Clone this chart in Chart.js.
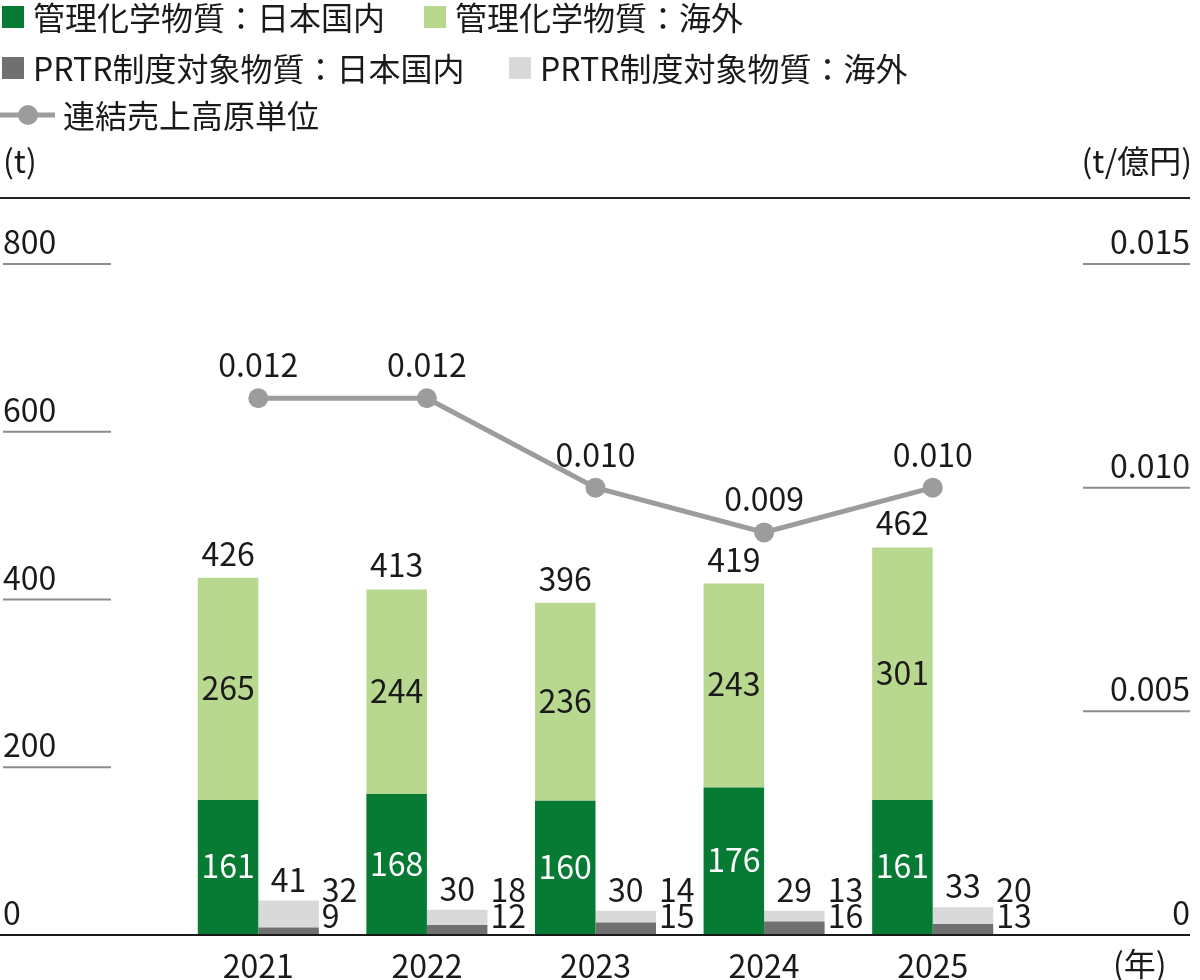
<!DOCTYPE html>
<html lang="ja">
<head>
<meta charset="utf-8">
<title>管理化学物質・PRTR制度対象物質 排出量</title>
<script src="https://cdn.jsdelivr.net/npm/chart.js@4.4.1/dist/chart.umd.min.js"></script>
<style>
  html, body { margin: 0; padding: 0; background: #fff; }
  #wrap { position: relative; width: 1200px; height: 980px; }
</style>
</head>
<body>
<div id="wrap"><canvas id="chart"></canvas></div>
<script>
// 年度
const categories = ['2021', '2022', '2023', '2024', '2025'];

// 管理化学物質 (t)
const kanriDomestic = [161, 168, 160, 176, 161];
const kanriOverseas = [265, 244, 236, 243, 301];
const kanriTotal = [426, 413, 396, 419, 462];

// PRTR制度対象物質 (t)
const prtrDomestic = [9, 12, 15, 16, 13];
const prtrOverseas = [32, 18, 14, 13, 20];
const prtrTotal = [41, 30, 30, 29, 33];

// 連結売上高原単位 (t/億円)
const intensity = [0.012, 0.012, 0.010, 0.009, 0.010];

// 目盛り
const leftTicks = [0, 200, 400, 600, 800];
const rightTicks = [0, 0.005, 0.010, 0.015];
const rightTickLabels = ['0', '0.005', '0.010', '0.015'];

const FONT = '"Noto Sans CJK JP", "Noto Sans", sans-serif';
const TEXT = '#1a1a1a';
const C_GREEN = '#077a34';
const C_LGREEN = '#b8d78f';
const C_GRAY = '#707070';
const C_LGRAY = '#d9d9d9';
const C_LINE = '#9c9c9c';

const legendItems = [
    { label: '管理化学物質：日本国内', color: C_GREEN, x: 2, y: 17 },
    { label: '管理化学物質：海外', color: C_LGREEN, x: 424, y: 17 },
    { label: 'PRTR制度対象物質：日本国内', color: C_GRAY, x: 2, y: 68 },
    { label: 'PRTR制度対象物質：海外', color: C_LGRAY, x: 509, y: 68 },
];

const decorPlugin = {
    id: 'decor',
    afterDraw(chart) {
        const ctx = chart.ctx;
        const xS = chart.scales.x;
        const yL = chart.scales.y;
        const yR = chart.scales.y2;
        const base = yL.getPixelForValue(0);

        ctx.save();
        ctx.font = '32px ' + FONT;
        ctx.fillStyle = TEXT;

        // 凡例
        ctx.textBaseline = 'middle';
        legendItems.forEach(item => {
            ctx.fillStyle = item.color;
            ctx.fillRect(item.x, item.y - 11, 22, 22);
            ctx.fillStyle = TEXT;
            ctx.textAlign = 'left';
            ctx.fillText(item.label, item.x + 31, item.y + 1);
        });
        ctx.strokeStyle = C_LINE;
        ctx.lineWidth = 5;
        ctx.beginPath();
        ctx.moveTo(0, 115);
        ctx.lineTo(55, 115);
        ctx.stroke();
        ctx.fillStyle = C_LINE;
        ctx.beginPath();
        ctx.arc(28, 115, 10, 0, Math.PI * 2);
        ctx.fill();
        ctx.fillStyle = TEXT;
        ctx.fillText('連結売上高原単位', 63, 116);

        // 軸タイトル
        ctx.fillText('(t)', 3, 161);
        ctx.textAlign = 'right';
        ctx.fillText('(t/億円)', 1192, 161);

        // 上端の線
        ctx.strokeStyle = '#222';
        ctx.lineWidth = 2;
        ctx.beginPath();
        ctx.moveTo(0, 198);
        ctx.lineTo(1190, 198);
        ctx.stroke();

        // 目盛り（左）
        ctx.textBaseline = 'alphabetic';
        ctx.strokeStyle = '#8c8c8c';
        leftTicks.forEach(v => {
            const py = yL.getPixelForValue(v);
            ctx.textAlign = 'left';
            ctx.fillText(String(v), 3, py - 10);
            if (v !== 0) {
                ctx.beginPath();
                ctx.moveTo(3, py);
                ctx.lineTo(111, py);
                ctx.stroke();
            }
        });
        // 目盛り（右）
        rightTicks.forEach((v, i) => {
            const py = yR.getPixelForValue(v);
            ctx.textAlign = 'right';
            ctx.fillText(rightTickLabels[i], 1190, py - 10);
            if (v !== 0) {
                ctx.beginPath();
                ctx.moveTo(1083, py);
                ctx.lineTo(1190, py);
                ctx.stroke();
            }
        });

        // ベースライン
        ctx.strokeStyle = '#1a1a1a';
        ctx.beginPath();
        ctx.moveTo(0, base);
        ctx.lineTo(1190, base);
        ctx.stroke();

        // 横軸ラベル
        ctx.textBaseline = 'middle';
        ctx.textAlign = 'center';
        categories.forEach((c, i) => {
            ctx.fillText(c, xS.getPixelForValue(i), base + 31);
        });
        ctx.textAlign = 'left';
        ctx.fillText('(年)', 1113, base + 29);

        // データラベル
        ctx.textBaseline = 'alphabetic';
        ctx.textAlign = 'center';
        const mKd = chart.getDatasetMeta(0).data;
        const mKo = chart.getDatasetMeta(1).data;
        const mPo = chart.getDatasetMeta(3).data;
        const mLine = chart.getDatasetMeta(4).data;

        categories.forEach((c, i) => {
            const kd = mKd[i], ko = mKo[i], po = mPo[i];
            ctx.fillStyle = '#ffffff';
            ctx.fillText(String(kanriDomestic[i]), kd.x, (kd.y + kd.base) / 2 + 11);
            ctx.fillStyle = TEXT;
            ctx.fillText(String(kanriOverseas[i]), ko.x, (ko.y + ko.base) / 2 + 11);
            ctx.fillText(String(kanriTotal[i]), ko.x, ko.y - 12);
            ctx.fillText(String(prtrTotal[i]), po.x, po.y - 9);

            ctx.textAlign = 'left';
            const sx = po.x + po.width / 2 + 3;
            ctx.fillText(String(prtrOverseas[i]), sx, base - 33);
            ctx.fillText(String(prtrDomestic[i]), sx, base - 7);
            ctx.textAlign = 'center';

            const pt = mLine[i];
            ctx.fillText(intensity[i].toFixed(3), pt.x, pt.y - 21);
        });

        ctx.restore();
    }
};

new Chart(document.getElementById('chart'), {
    data: {
        labels: categories,
        datasets: [
            { type: 'bar', label: '管理化学物質：日本国内', data: kanriDomestic, backgroundColor: C_GREEN, stack: 'kanri', order: 1 },
            { type: 'bar', label: '管理化学物質：海外', data: kanriOverseas, backgroundColor: C_LGREEN, stack: 'kanri', order: 1 },
            { type: 'bar', label: 'PRTR制度対象物質：日本国内', data: prtrDomestic, backgroundColor: C_GRAY, stack: 'prtr', order: 1 },
            { type: 'bar', label: 'PRTR制度対象物質：海外', data: prtrOverseas, backgroundColor: C_LGRAY, stack: 'prtr', order: 1 },
            {
                type: 'line', label: '連結売上高原単位', data: intensity, yAxisID: 'y2', order: 0,
                borderColor: C_LINE, borderWidth: 5, tension: 0,
                pointRadius: 10, pointBackgroundColor: C_LINE, pointBorderWidth: 0, pointHoverRadius: 10
            }
        ]
    },
    options: {
        responsive: true,
        maintainAspectRatio: false,
        animation: false,
        layout: { padding: { top: 264, left: 174, right: 183, bottom: 45 } },
        datasets: { bar: { categoryPercentage: 0.718, barPercentage: 1.0, borderWidth: 0 } },
        plugins: { legend: { display: false }, tooltip: { enabled: false } },
        scales: {
            x: { display: false },
            y: { display: false, stacked: true, min: 0, max: 800 },
            y2: { display: false, position: 'right', min: 0, max: 0.015 }
        }
    },
    plugins: [decorPlugin]
});
</script>
</body>
</html>
